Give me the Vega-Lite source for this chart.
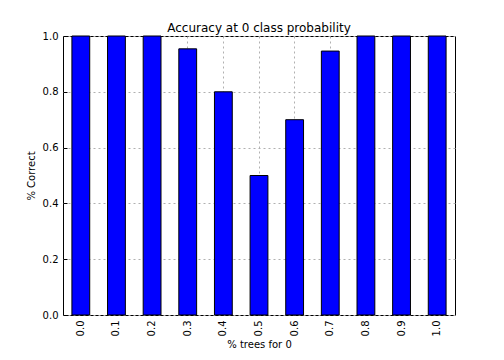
{
  "$schema": "https://vega.github.io/schema/vega-lite/v6.json",
  "width": 392,
  "height": 279,
  "autosize": {"type": "none"},
  "padding": {"left": 63, "top": 36, "right": 49, "bottom": 45},
  "background": "white",
  "title": {"text": "Accuracy at 0 class probability", "font": "DejaVu Sans", "fontSize": 12, "fontWeight": "normal", "color": "black", "offset": -4},
  "config": {
    "view": {"stroke": "black", "strokeWidth": 1},
    "axis": {"labelFont": "DejaVu Sans", "titleFont": "DejaVu Sans", "labelFontSize": 10, "titleFontSize": 10, "titleFontWeight": "normal", "labelColor": "black", "titleColor": "black", "domain": false, "tickColor": "black", "gridColor": "#b0b0b0", "gridDash": [2, 3], "gridOpacity": 1}
  },
  "data": {"values": [
    {"x": "0.0", "y": 1.0},
    {"x": "0.1", "y": 1.0},
    {"x": "0.2", "y": 1.0},
    {"x": "0.3", "y": 0.954},
    {"x": "0.4", "y": 0.8},
    {"x": "0.5", "y": 0.5},
    {"x": "0.6", "y": 0.7},
    {"x": "0.7", "y": 0.946},
    {"x": "0.8", "y": 1.0},
    {"x": "0.9", "y": 1.0},
    {"x": "1.0", "y": 1.0}
  ]},
  "mark": {"type": "bar", "fill": "#0000ff", "stroke": "black", "strokeWidth": 1},
  "encoding": {
    "x": {"field": "x", "type": "ordinal", "sort": null,
      "scale": {"paddingInner": 0.5, "paddingOuter": 0.25},
      "axis": {"title": "% trees for 0", "labelAngle": -90, "grid": true, "tickSize": -4, "labelPadding": 9, "titlePadding": 4}},
    "y": {"field": "y", "type": "quantitative",
      "scale": {"domain": [0, 1], "nice": false},
      "axis": {"title": "% Correct", "values": [0, 0.2, 0.4, 0.6, 0.8, 1.0], "format": ".1f", "grid": true, "tickSize": -4, "labelPadding": 9, "titlePadding": 6}}
  }
}
